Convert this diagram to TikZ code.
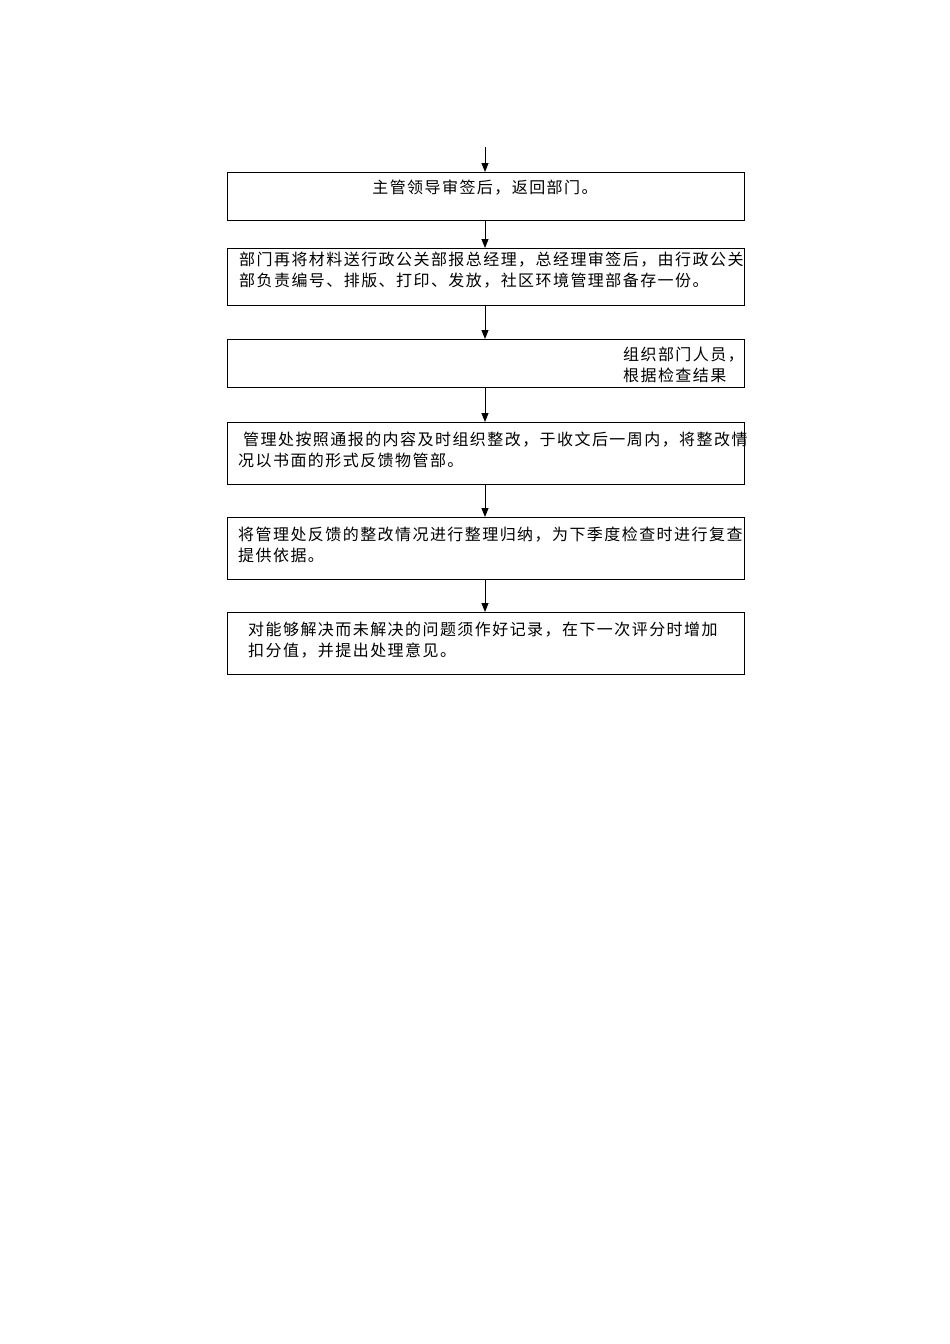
\documentclass[tikz,border=0pt]{standalone}
\usepackage{fontspec}
\setmainfont{Noto Sans CJK SC}[LetterSpace=9]
\usetikzlibrary{arrows.meta}
\begin{document}
\begin{tikzpicture}[x=1pt,y=-1pt,
  boxstyle/.style={draw,line width=1pt,inner sep=0pt},
  txt/.style={inner sep=0pt,align=left,font=\fontsize{16}{20.5}\selectfont},
  arr/.style={-{Triangle[length=9pt,width=7pt]},line width=1pt}]
\useasboundingbox (0,0) rectangle (950,1344);
\coordinate (top) at (485,147);
\draw[boxstyle] (227,172) rectangle (744,220); \coordinate (b1t) at (485,172); \coordinate (b1b) at (485,220);
\draw[boxstyle] (227,248) rectangle (744,305); \coordinate (b2t) at (485,248); \coordinate (b2b) at (485,305);
\draw[boxstyle] (227,339) rectangle (744,387); \coordinate (b3t) at (485,339); \coordinate (b3b) at (485,387);
\draw[boxstyle] (227,422) rectangle (744,484); \coordinate (b4t) at (485,422); \coordinate (b4b) at (485,484);
\draw[boxstyle] (227,517) rectangle (744,579); \coordinate (b5t) at (485,517); \coordinate (b5b) at (485,579);
\draw[boxstyle] (227,612) rectangle (744,674); \coordinate (b6t) at (485,612);
\draw[arr] (top) -- (b1t);
\draw[arr] (b1b) -- (b2t);
\draw[arr] (b2b) -- (b3t);
\draw[arr] (b3b) -- (b4t);
\draw[arr] (b4b) -- (b5t);
\draw[arr] (b5b) -- (b6t);
\node[txt] (t1) at (485,188) {主管领导审签后，返回部门。};
\node[txt,anchor=west] (t2) at (239,270) {部门再将材料送行政公关部报总经理，总经理审签后，由行政公关\\部负责编号、排版、打印、发放，社区环境管理部备存一份。};
\node[txt,anchor=east] (t3) at (744,365) {组织部门人员，\\根据检查结果};
\node[txt,anchor=west] (t4) at (238,450) {\ 管理处按照通报的内容及时组织整改，于收文后一周内，将整改情\\况以书面的形式反馈物管部。};
\node[txt,anchor=west] (t5) at (238,545) {将管理处反馈的整改情况进行整理归纳，为下季度检查时进行复查\\提供依据。};
\node[txt,anchor=west] (t6) at (248,640) {对能够解决而未解决的问题须作好记录，在下一次评分时增加\\扣分值，并提出处理意见。};
\end{tikzpicture}
\end{document}
